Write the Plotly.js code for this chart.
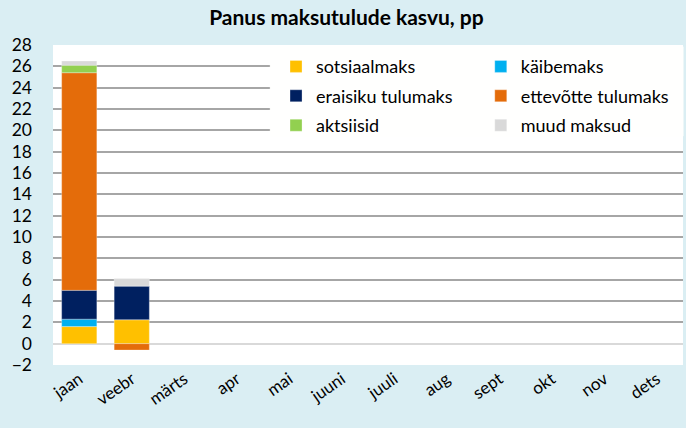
<!DOCTYPE html>
<html>
<head>
<meta charset="utf-8">
<script src="https://cdn.plot.ly/plotly-3.0.1.min.js"></script>
<style>html,body{margin:0;padding:0;background:#DAEEF3;}#chart{width:686px;height:428px;}</style>
</head>
<body>
<div id="chart"></div>
<script>
const months = ["jaan","veebr","märts","apr","mai","juuni","juuli","aug","sept","okt","nov","dets"];
const sotsiaalmaks = [1.6, 2.25, null, null, null, null, null, null, null, null, null, null];
const kaibemaks    = [0.7, 0.0, null, null, null, null, null, null, null, null, null, null];
const eraisiku     = [2.7, 3.15, null, null, null, null, null, null, null, null, null, null];
const ettevotte    = [20.4, -0.6, null, null, null, null, null, null, null, null, null, null];
const aktsiisid    = [0.7, 0.0, null, null, null, null, null, null, null, null, null, null];
const muud         = [0.4, 0.7, null, null, null, null, null, null, null, null, null, null];
const yTicks = [-2,0,2,4,6,8,10,12,14,16,18,20,22,24,26,28];

const series = [
  {name:"sotsiaalmaks", y:sotsiaalmaks, color:"#FFC000", leg:"legend"},
  {name:"käibemaks", y:kaibemaks, color:"#00B0F0", leg:"legend2"},
  {name:"eraisiku tulumaks", y:eraisiku, color:"#002060", leg:"legend"},
  {name:"ettevõtte tulumaks", y:ettevotte, color:"#E46C0A", leg:"legend2"},
  {name:"aktsiisid", y:aktsiisid, color:"#92D050", leg:"legend"},
  {name:"muud maksud", y:muud, color:"#D9D9D9", leg:"legend2"}
];
const font = "Lato, Calibri, 'Open Sans', sans-serif";
const data = series.map((s, i) => ({
  type:"bar", x:months, y:s.y, name:s.name, legend:s.leg, legendgroup:"g" + i,
  marker:{color:s.color, line:{color:"rgba(255,255,255,0.6)", width:0.5}},
  hoverinfo:"skip"
}));
const legFont = {size:18, family:font, color:"#000"};
const layout = {
  width:686, height:428,
  paper_bgcolor:"#DAEEF3", plot_bgcolor:"#FFFFFF",
  margin:{l:53, r:3, t:45, b:63, autoexpand:false},
  barmode:"relative", bargap:0.33,
  title:{text:"<b>Panus maksutulude kasvu, pp</b>", x:0.505, xanchor:"center", y:0.975, yanchor:"top",
         font:{family:font, size:21, color:"#000"}},
  font:{family:font, color:"#000"},
  xaxis:{type:"category", tickangle:-35, tickfont:{size:17, family:font}, showgrid:false,
         showline:false, ticks:"", zeroline:false, fixedrange:true},
  yaxis:{range:[-2,28], tickvals:yTicks, tickfont:{size:17.5, family:font}, showgrid:true,
         gridcolor:"#A6A6A6", gridwidth:2, zeroline:true, zerolinecolor:"#D9D9D9", zerolinewidth:2,
         ticks:"", showline:false, ticklabelstandoff:20, fixedrange:true},
  shapes:[{type:"rect", xref:"paper", yref:"paper", x0:0.345, x1:1, y0:0.715, y1:0.995,
           fillcolor:"#FFFFFE", line:{width:1, color:"#FFFFFE"}}],
  showlegend:true,
  legend:{orientation:"v", traceorder:"grouped", tracegroupgap:3, x:0.354, xanchor:"left", y:0.99, yanchor:"top",
          bgcolor:"rgba(0,0,0,0)", itemwidth:30, font:legFont, itemclick:false},
  legend2:{orientation:"v", traceorder:"grouped", tracegroupgap:3, x:0.679, xanchor:"left", y:0.99, yanchor:"top",
          bgcolor:"rgba(0,0,0,0)", itemwidth:30, font:legFont, itemclick:false}
};
Plotly.newPlot("chart", data, layout, {staticPlot:true, displayModeBar:false});
</script>
</body>
</html>
